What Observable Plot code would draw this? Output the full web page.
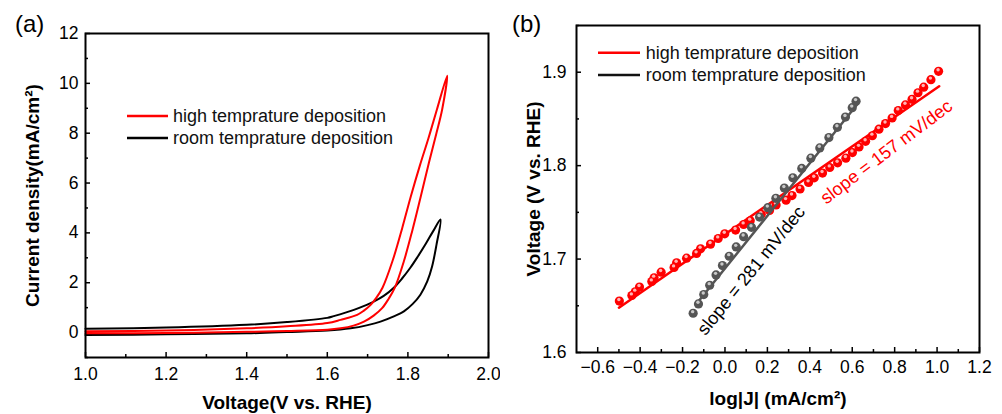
<!DOCTYPE html>
<html><head><meta charset="utf-8">
<script src="https://cdn.jsdelivr.net/npm/d3@7"></script>
<script src="https://cdn.jsdelivr.net/npm/@observablehq/plot@0.6"></script>
<style>
body{margin:0;background:#fff;font-family:"Liberation Sans",Arial,sans-serif}
#wrap{position:relative;width:1002px;height:414px;display:flex}
.panel{position:relative}
.overlay{position:absolute;left:0;top:0;pointer-events:none}
</style></head>
<body><div id="wrap"><div class="panel" id="pa"></div><div class="panel" id="pb"></div></div>
<script>
// ---------- Panel (a) data: CV loops [V, J] in scan order ----------
const cvHigh = [
  [1.00,-0.03],[1.20,-0.02],[1.40,0.03],[1.50,0.06],[1.60,0.11],[1.633,0.17],[1.665,0.28],[1.691,0.44],
  [1.715,0.68],[1.736,0.98],[1.752,1.35],[1.767,1.78],[1.790,2.86],[1.811,4.10],[1.831,5.40],[1.852,6.80],
  [1.870,7.95],[1.885,8.95],[1.8975,10.31],
  [1.872,8.95],[1.851,7.80],[1.830,6.72],[1.807,5.45],[1.786,4.20],[1.762,2.88],[1.737,1.80],[1.721,1.38],
  [1.707,1.10],[1.690,0.87],[1.674,0.71],[1.633,0.51],[1.60,0.38],[1.50,0.25],[1.40,0.17],[1.20,0.08],[1.00,0.05]
];
const cvRoom = [
  [1.00,-0.10],[1.20,-0.07],[1.40,-0.03],[1.50,0.02],[1.60,0.08],[1.658,0.17],[1.700,0.30],[1.732,0.44],
  [1.765,0.65],[1.790,0.85],[1.812,1.15],[1.831,1.52],[1.848,2.05],[1.860,2.65],[1.871,3.53],[1.881,4.54],
  [1.862,4.05],[1.844,3.55],[1.825,3.06],[1.806,2.60],[1.785,2.16],[1.765,1.80],[1.740,1.47],[1.715,1.24],
  [1.690,1.06],[1.666,0.91],[1.616,0.66],[1.60,0.59],[1.50,0.42],[1.40,0.31],[1.20,0.20],[1.00,0.15]
];
const xMajorA = [1.0,1.2,1.4,1.6,1.8,2.0];
const xMinorA = [1.1,1.3,1.5,1.7,1.9];
const yMajorA = [0,2,4,6,8,10,12];
const yMinorA = [-1,1,3,5,7,9,11];

// ---------- Panel (b) data: Tafel [log|J|, V] ----------
const tafelHigh = [
  [-0.498,1.655],[-0.439,1.661],[-0.423,1.665],[-0.403,1.670],[-0.345,1.676],[-0.334,1.680],[-0.301,1.686],
  [-0.240,1.691],[-0.228,1.696],[-0.181,1.701],[-0.134,1.706],[-0.115,1.711],[-0.068,1.716],[-0.032,1.722],
  [-0.001,1.727],[0.050,1.731],[0.088,1.737],[0.119,1.741],[0.171,1.748],[0.210,1.752],[0.241,1.758],
  [0.288,1.763],[0.316,1.768],[0.354,1.775],[0.394,1.782],[0.421,1.787],[0.460,1.792],[0.494,1.798],
  [0.531,1.803],[0.570,1.808],[0.601,1.814],[0.632,1.820],[0.663,1.826],[0.695,1.832],[0.726,1.839],
  [0.757,1.845],[0.788,1.851],[0.817,1.859],[0.851,1.865],[0.882,1.871],[0.910,1.878],[0.937,1.884],
  [0.971,1.892],[1.007,1.901]
];
const tafelRoom = [
  [-0.150,1.642],[-0.125,1.652],[-0.100,1.662],[-0.072,1.672],[-0.042,1.683],[-0.012,1.693],[0.020,1.703],
  [0.053,1.713],[0.088,1.724],[0.125,1.734],[0.163,1.745],[0.202,1.755],[0.240,1.765],[0.280,1.776],
  [0.320,1.787],[0.362,1.797],[0.405,1.808],[0.447,1.819],[0.490,1.830],[0.530,1.841],[0.568,1.852],
  [0.600,1.862],[0.618,1.869]
];
const fitHigh = [[-0.50,1.648],[1.010,1.885]];
const fitRoom = [[-0.135,1.652],[0.625,1.866]];
const xMajorB = [-0.6,-0.4,-0.2,0.0,0.2,0.4,0.6,0.8,1.0,1.2];
const xMinorB = [-0.5,-0.3,-0.1,0.1,0.3,0.5,0.7,0.9,1.1];
const yMajorB = [1.6,1.7,1.8,1.9];
const yMinorB = [1.65,1.75,1.85,1.95];

const seriesNames = ["high temprature deposition","room temprature deposition"];
const slopeLabels = ["slope = 157 mV/dec","slope = 281 mV/dec"];

const RED = "#ff0000", GREY = "#555555";
const FONT = "Liberation Sans, Arial, sans-serif";

function ticksMarks(W, H, xMaj, xMin, yMaj, yMin){
  return [
    Plot.tickX(xMaj, {x: d => d, insetTop: H - 5, stroke: "black", strokeWidth: 1.5}),
    Plot.tickX(xMin, {x: d => d, insetTop: H - 3, stroke: "black", strokeWidth: 1.5}),
    Plot.tickY(yMaj, {y: d => d, insetRight: W - 5, stroke: "black", strokeWidth: 1.5}),
    Plot.tickY(yMin, {y: d => d, insetRight: W - 3, stroke: "black", strokeWidth: 1.5})
  ];
}

function overlay(w, h, label, lx, items){
  const ns = "http://www.w3.org/2000/svg";
  const svg = document.createElementNS(ns, "svg");
  svg.setAttribute("class","overlay"); svg.setAttribute("width", w); svg.setAttribute("height", h);
  let s = `<text x="${lx}" y="32" font-family="${FONT}" font-size="24" fill="black">${label}</text>`;
  for (const it of items){
    s += `<line x1="${it.x1}" x2="${it.x2}" y1="${it.y}" y2="${it.y}" stroke="${it.color}" stroke-width="2.5"/>`;
    s += `<text x="${it.tx}" y="${it.y}" dy="0.35em" font-family="${FONT}" font-size="18" fill="#111">${it.text}</text>`;
  }
  svg.innerHTML = s;
  return svg;
}

// ---------- Panel (a) ----------
{
  const W = 500, H = 414, mL = 85, mR = 12, mT = 33, mB = 57;
  const pw = W - mL - mR, ph = H - mT - mB;
  const chart = Plot.plot({
    width: W, height: H, marginLeft: mL, marginRight: mR, marginTop: mT, marginBottom: mB,
    style: {fontFamily: FONT, fontSize: "17.5px", color: "black", background: "white"},
    x: {domain: [1, 2]},
    y: {domain: [-1, 12]},
    marks: [
      Plot.axisX({ticks: xMajorA, tickSize: 0, tickPadding: 10, tickFormat: d3.format(".1f"), label: null}),
      Plot.axisY({ticks: yMajorA, tickSize: 0, tickPadding: 7, tickFormat: d3.format("d"), label: null}),
      ...ticksMarks(pw, ph, xMajorA, xMinorA, yMajorA, yMinorA),
      Plot.line(cvRoom, {x: d => d[0], y: d => d[1], stroke: "black", strokeWidth: 2, curve: "catmull-rom"}),
      Plot.line(cvHigh, {x: d => d[0], y: d => d[1], stroke: RED, strokeWidth: 2, curve: "catmull-rom"}),
      Plot.frame({stroke: "black", strokeWidth: 2}),
      Plot.text(["Voltage(V vs. RHE)"], {text: d => d, frameAnchor: "bottom", textAnchor: "middle", dy: 45, fontWeight: "bold", fontSize: 19, lineAnchor: "middle"}),
      Plot.text(["Current density(mA/cm²)"], {text: d => d, frameAnchor: "left", textAnchor: "middle", dx: -53, rotate: -90, fontWeight: "bold", fontSize: 19, lineAnchor: "middle"})
    ]
  });
  const el = document.getElementById("pa");
  el.style.width = W + "px"; el.style.height = H + "px";
  el.appendChild(chart);
  el.appendChild(overlay(W, H, "(a)", 15, [
    {x1: 127, x2: 168, y: 116, tx: 173, color: RED, text: seriesNames[0]},
    {x1: 127, x2: 168, y: 138, tx: 173, color: "black", text: seriesNames[1]}
  ]));
}

// ---------- Panel (b) ----------
{
  const W = 502, H = 414, mL = 76, mR = 23, mT = 25, mB = 62;
  const pw = W - mL - mR, ph = H - mT - mB;
  const chart = Plot.plot({
    width: W, height: H, marginLeft: mL, marginRight: mR, marginTop: mT, marginBottom: mB,
    style: {fontFamily: FONT, fontSize: "17.5px", color: "black", background: "white"},
    x: {domain: [-0.7, 1.2]},
    y: {domain: [1.6, 1.95]},
    marks: [
      Plot.axisX({ticks: xMajorB, tickSize: 0, tickPadding: 8, tickFormat: d3.format(".1f"), label: null}),
      Plot.axisY({ticks: yMajorB, tickSize: 0, tickPadding: 10, tickFormat: d3.format(".1f"), label: null}),
      ...ticksMarks(pw, ph, xMajorB, xMinorB, yMajorB, yMinorB),
      Plot.line(fitHigh, {x: d => d[0], y: d => d[1], stroke: RED, strokeWidth: 2.5}),
      Plot.dot(tafelHigh, {x: d => d[0], y: d => d[1], r: 4.6, fill: RED}),
      Plot.dot(tafelHigh, {x: d => d[0], y: d => d[1], r: 1.7, fill: "#ffb3b3", dx: -0.5, dy: -1.6}),
      Plot.line(fitRoom, {x: d => d[0], y: d => d[1], stroke: GREY, strokeWidth: 2.5}),
      Plot.dot(tafelRoom, {x: d => d[0], y: d => d[1], r: 4.6, fill: GREY}),
      Plot.dot(tafelRoom, {x: d => d[0], y: d => d[1], r: 1.7, fill: "#c8c8c8", dx: -0.5, dy: -1.6}),
      Plot.text([slopeLabels[1]], {text: d => d, x: 0.124, y: 1.6876, rotate: -51, fontSize: 18, fill: "black", lineAnchor: "middle"}),
      Plot.text([slopeLabels[0]], {text: d => d, x: 0.761, y: 1.8145, rotate: -37, fontSize: 18, fill: RED, lineAnchor: "middle"}),
      Plot.frame({stroke: "black", strokeWidth: 2}),
      Plot.text(["log|J| (mA/cm²)"], {text: d => d, frameAnchor: "bottom", textAnchor: "middle", dy: 46, fontWeight: "bold", fontSize: 19, lineAnchor: "middle"}),
      Plot.text(["Voltage (V vs. RHE)"], {text: d => d, frameAnchor: "left", textAnchor: "middle", dx: -43, rotate: -90, fontWeight: "bold", fontSize: 19, lineAnchor: "middle"})
    ]
  });
  const el = document.getElementById("pb");
  el.style.width = W + "px"; el.style.height = H + "px";
  el.appendChild(chart);
  el.appendChild(overlay(W, H, "(b)", 12, [
    {x1: 98, x2: 140, y: 52.7, tx: 145.7, color: RED, text: seriesNames[0]},
    {x1: 98, x2: 140, y: 75, tx: 145.7, color: "#111", text: seriesNames[1]}
  ]));
}
</script>
</body></html>
